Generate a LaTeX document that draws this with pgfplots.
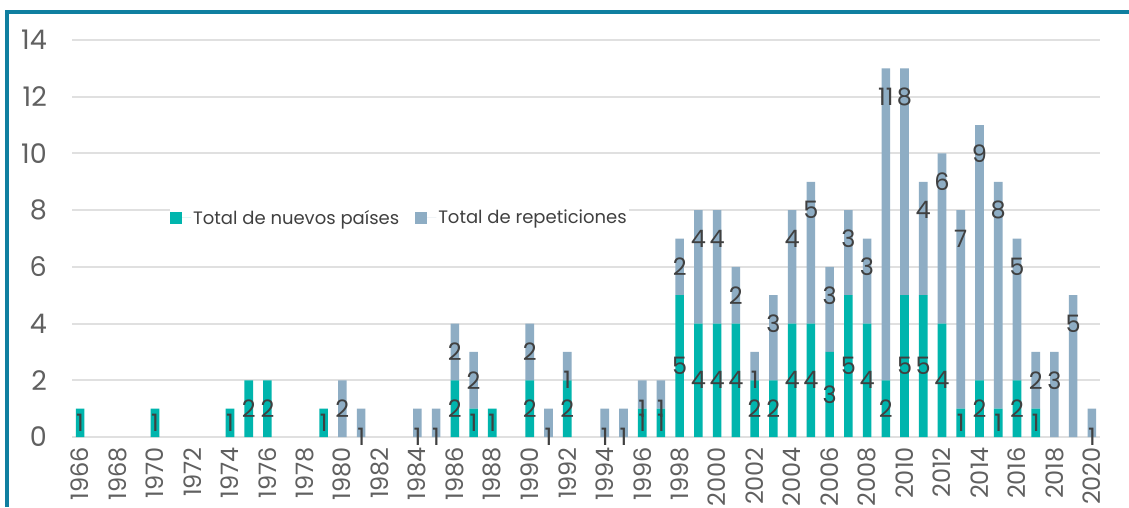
\documentclass[border=0pt]{standalone}
\usepackage{pgfplots}
\usepackage{pgfplotstable}
\pgfplotsset{compat=1.18}
\usepackage{fontspec}
\setmainfont{Poppins}
\definecolor{cnew}{RGB}{0,181,173}
\definecolor{crep}{RGB}{142,173,196}
\definecolor{cframe}{RGB}{16,127,160}
\definecolor{cgrid}{RGB}{224,224,224}
\definecolor{ctick}{RGB}{96,96,96}
\definecolor{clab}{RGB}{64,64,64}

\pgfplotstableread{
year new rep
1966 1 0
1967 0 0
1968 0 0
1969 0 0
1970 1 0
1971 0 0
1972 0 0
1973 0 0
1974 1 0
1975 2 0
1976 2 0
1977 0 0
1978 0 0
1979 1 0
1980 0 2
1981 0 1
1982 0 0
1983 0 0
1984 0 1
1985 0 1
1986 2 2
1987 1 2
1988 1 0
1989 0 0
1990 2 2
1991 0 1
1992 2 1
1993 0 0
1994 0 1
1995 0 1
1996 1 1
1997 1 1
1998 5 2
1999 4 4
2000 4 4
2001 4 2
2002 2 1
2003 2 3
2004 4 4
2005 4 5
2006 3 3
2007 5 3
2008 4 3
2009 2 11
2010 5 8
2011 5 4
2012 4 6
2013 1 7
2014 2 9
2015 1 8
2016 2 5
2017 1 2
2018 0 3
2019 0 5
2020 0 1
}\datatable

% label positions: x, y, text
\pgfplotstableread{
x y lab
1966 0.5 1
1970 0.5 1
1974 0.5 1
1975 1 2
1976 1 2
1979 0.5 1
1986 1 2
1987 0.5 1
1988 0.5 1
1990 1 2
1992 1 2
1996 0.5 1
1997 0.5 1
1998 2.5 5
1999 2 4
2000 2 4
2001 2 4
2002 1 2
2003 1 2
2004 2 4
2005 2 4
2006 1.5 3
2007 2.5 5
2008 2 4
2009 1 2
2010 2.5 5
2011 2.5 5
2012 2 4
2013 0.5 1
2014 1 2
2015 0.5 1
2016 1 2
2017 0.5 1
1980 1 2
1981 0 1
1984 0 1
1985 0 1
1986 3 2
1987 2 2
1990 3 2
1991 0 1
1992 2 1
1994 0 1
1995 0 1
1996 1 1
1997 1 1
1998 6 2
1999 7 4
2000 7 4
2001 5 2
2002 2 1
2003 4 3
2004 7 4
2005 8 5
2006 5 3
2007 7 3
2008 6 3
2009 12 11
2010 12 8
2011 8 4
2012 9 6
2013 7 7
2014 10 9
2015 8 8
2016 6 5
2017 2 2
2018 2 3
2019 4 5
2020 0 1
}\labtable

\pgfplotsset{
  common/.style={
    scale only axis,
    width=1028pt, height=397pt,
    xmin=1965.57, xmax=2020.43,
    ymin=0, ymax=14,
    at={(72pt,70pt)}, anchor=south west,
  }
}

\begin{document}
\begin{tikzpicture}
\useasboundingbox (0,0) rectangle (1129pt,507pt);
\fill[white] (0,0) rectangle (1129pt,507pt);
% frame
\draw[cframe, line width=4pt] (7pt,0) -- (7pt,495pt) -- (1129pt,495pt);

\begin{axis}[common,
  ybar stacked,
  bar width=8.6pt,
  axis line style={draw=none},
  major tick length=0pt,
  ymajorgrids,
  grid style={cgrid, line width=2pt},
  ytick={0,2,...,14},
  xtick={1966,1968,...,2020},
  /pgf/number format/assume math mode=true,
  /pgf/number format/1000 sep={},
  xticklabel shift=10pt,
  yticklabel shift=25pt,
  xticklabel style={rotate=90, anchor=east, inner sep=0pt, font=\fontsize{24}{28}\selectfont, text=ctick},
  yticklabel style={anchor=east, inner sep=0pt, font=\fontsize{27}{30}\selectfont, text=ctick},
  legend style={at={(0.0953,0.552)}, anchor=west, draw=none, fill=white, inner xsep=0pt, inner ysep=2pt,
    font=\fontsize{18}{22}\selectfont, text=clab, legend columns=2,
    /tikz/every even column/.append style={column sep=14pt}},
  legend image code/.code={\fill[#1] (0pt,-6pt) rectangle (12pt,6pt); \path (0pt,0pt) -- (21pt,0pt);},
]
\addplot[fill=cnew, draw=none] table[x=year, y=new] {\datatable};
\addlegendentry{Total de nuevos países}
\addplot[fill=crep, draw=none] table[x=year, y=rep] {\datatable};
\addlegendentry{Total de repeticiones}
\end{axis}

\begin{axis}[common, hide axis]
\addplot[only marks, mark=*, mark size=0pt, mark options={draw=none, fill=none},
  nodes near coords, point meta=explicit symbolic,
  every node near coord/.style={anchor=center, inner sep=0pt, text=clab, font=\fontsize{24}{28}\selectfont}]
  table[x=x, y=y, meta=lab] {\labtable};
\end{axis}
\end{tikzpicture}
\end{document}
